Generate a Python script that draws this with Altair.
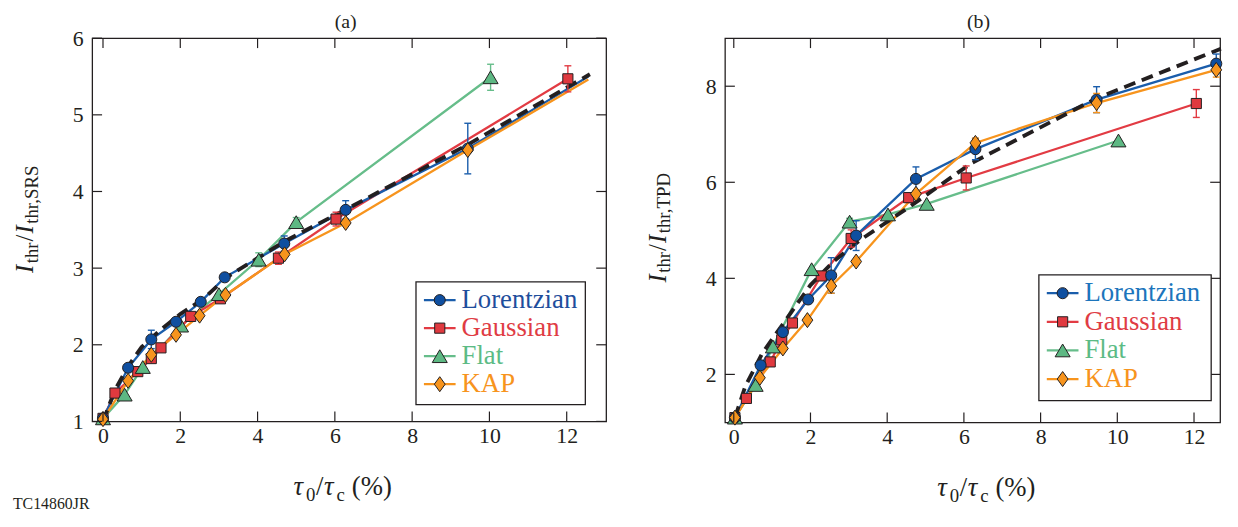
import altair as alt
import pandas as pd

FONT = "Liberation Serif, Times New Roman, Times, serif"
INK = "#231f20"

SERIES = ["Lorentzian", "Gaussian", "Flat", "KAP"]
LINE_COLORS = ["#1a5dab", "#e23b43", "#66bd8a", "#f7941d"]
FILL_COLORS = ["#0f4fa0", "#e0393f", "#5db883", "#f7941d"]
TEXT_COLORS_A = ["#1f4e9c", "#e03c44", "#5cbb85", "#f7941d"]
TEXT_COLORS_B = ["#1c75bc", "#e03c44", "#5cbb85", "#f7941d"]

# ---------------- panel (a) data ----------------
a_lor_x = [0, 0.65, 1.25, 1.89, 2.53, 3.15, 4.69, 6.28, 9.44, 12.56]
a_lor_y = [1.04, 1.70, 2.07, 2.30, 2.56, 2.88, 3.32, 3.76, 4.56, 5.50]
a_lor_e = [0, 0, 0.12, 0, 0, 0, 0.10, 0.12, 0.33, 0]
a_lor_m = [1, 1, 1, 1, 1, 1, 1, 1, 1, 0]

a_gau_x = [0, 0.31, 0.90, 1.25, 1.50, 2.27, 3.04, 4.54, 6.03, 12.03]
a_gau_y = [1.04, 1.37, 1.65, 1.82, 1.96, 2.37, 2.60, 3.13, 3.64, 5.47]
a_gau_e = [0, 0, 0, 0, 0, 0, 0, 0.08, 0.09, 0.17]
a_gau_m = [1, 1, 1, 1, 1, 1, 1, 1, 1, 1]

a_flat_x = [0, 0.56, 1.03, 2.02, 3.00, 4.03, 5.00, 10.03]
a_flat_y = [1.04, 1.35, 1.71, 2.25, 2.66, 3.11, 3.60, 5.49]
a_flat_e = [0, 0, 0, 0, 0, 0.09, 0.06, 0.17]
a_flat_m = [1, 1, 1, 1, 1, 1, 1, 1]

a_kap_x = [0, 0.65, 1.25, 1.89, 2.50, 3.17, 4.70, 6.28, 9.44, 12.56]
a_kap_y = [1.03, 1.53, 1.87, 2.13, 2.38, 2.65, 3.18, 3.59, 4.54, 5.46]
a_kap_e = [0, 0, 0, 0, 0, 0, 0, 0, 0, 0]
a_kap_m = [1, 1, 1, 1, 1, 1, 1, 1, 1, 0]

a_fit_x = [0, 0.30, 0.65, 1.00, 1.50, 2.00, 2.60, 3.20, 4.70, 6.30, 9.40, 12.60]
a_fit_y = [1.00, 1.40, 1.72, 1.97, 2.20, 2.40, 2.60, 2.88, 3.35, 3.77, 4.60, 5.53]

# ---------------- panel (b) data ----------------
b_lor_x = [0.03, 0.70, 1.28, 1.94, 2.54, 3.19, 4.75, 6.30, 9.46, 12.58]
b_lor_y = [1.10, 2.19, 2.88, 3.56, 4.06, 4.89, 6.07, 6.69, 7.72, 8.47]
b_lor_e = [0, 0.08, 0.10, 0, 0.37, 0.31, 0.25, 0.22, 0.27, 0.20]
b_lor_m = [1, 1, 1, 1, 1, 1, 1, 1, 1, 1]

b_gau_x = [0.03, 0.33, 0.95, 1.25, 1.53, 2.28, 3.06, 4.56, 6.06, 12.06]
b_gau_y = [1.10, 1.50, 2.26, 2.72, 3.07, 4.05, 4.83, 5.68, 6.09, 7.64]
b_gau_e = [0, 0, 0.08, 0.15, 0, 0, 0.18, 0.10, 0.25, 0.29]
b_gau_m = [1, 1, 1, 1, 1, 1, 1, 1, 1, 1]

b_flat_x = [0.03, 0.57, 1.02, 2.03, 3.02, 4.02, 5.03, 10.03]
b_flat_y = [1.10, 1.78, 2.58, 4.19, 5.18, 5.33, 5.55, 6.87]
b_flat_e = [0, 0, 0, 0, 0.07, 0, 0, 0]
b_flat_m = [1, 1, 1, 1, 1, 1, 1, 1]

b_kap_x = [0.03, 0.68, 1.28, 1.92, 2.54, 3.19, 4.75, 6.30, 9.46, 12.58]
b_kap_y = [1.10, 1.93, 2.54, 3.13, 3.84, 4.35, 5.76, 6.82, 7.65, 8.34]
b_kap_e = [0, 0, 0, 0, 0.15, 0, 0, 0.10, 0.20, 0.15]
b_kap_m = [1, 1, 1, 1, 1, 1, 1, 1, 1, 1]

b_fit_x = [0.03, 0.30, 0.75, 1.30, 2.00, 2.60, 3.30, 4.60, 6.20, 9.46, 12.70]
b_fit_y = [1.10, 1.75, 2.45, 3.07, 3.86, 4.35, 4.80, 5.50, 6.40, 7.75, 8.78]

x_ticks = [0, 2, 4, 6, 8, 10, 12]
a_y_ticks = [1, 2, 3, 4, 5, 6]
b_y_ticks = [2, 4, 6, 8]

# marker shapes (custom paths in [-1,1] box) and sizes
SHAPES = ["circle", "square", "M0,-0.85L1,0.85L-1,0.85Z", "M0,-1L0.72,0L0,1L-0.72,0Z"]
SIZES = [125, 105, 230, 230]
MARK_ORDER = [1, 2, 0, 3]  # draw Gaussian, Flat, Lorentzian, KAP
LINE_ORDER = [2, 1, 0, 3]

EM = {"t": 0.278, "h": 0.5, "r": 0.333, ",": 0.25, "S": 0.556, "R": 0.667,
      "T": 0.611, "P": 0.556, "D": 0.722, "/": 0.278, "(": 0.333, "%": 0.833,
      ")": 0.333, "0": 0.5, "c": 0.444, "I": 0.333, "τ": 0.45}


def tw(s, size):
    return sum(EM.get(ch, 0.5) for ch in s) * size


def txt(s, x, y, size, style="normal", color=INK, align="left",
        baseline="alphabetic", angle=0):
    kw = dict(align=align, baseline=baseline, font=FONT, fontSize=size,
              fontStyle=style, color=color)
    if angle:
        kw["angle"] = angle
    return alt.Chart(pd.DataFrame({"t": [s]})).mark_text(**kw).encode(
        text="t:N", x=alt.value(x), y=alt.value(y))


def build_panel(p):
    W, H = p["W"], p["H"]
    xs = alt.Scale(domain=p["xdom"], nice=False, zero=False)
    ys = alt.Scale(domain=p["ydom"], nice=False, zero=False)
    xax = alt.Axis(values=x_ticks, tickSize=0, domain=False, grid=False,
                   labelFont=FONT, labelFontSize=22, labelColor=INK,
                   labelPadding=4, title=None)
    yax = alt.Axis(values=p["yticks"], tickSize=0, domain=False, grid=False,
                   labelFont=FONT, labelFontSize=22, labelColor=INK,
                   labelPadding=9, title=None)

    def X(f):
        return alt.X(f, type="quantitative", scale=xs, axis=xax)

    def Y(f):
        return alt.Y(f, type="quantitative", scale=ys, axis=yax)

    layers = []
    frames = []
    for k, (sx, sy, se, sm) in enumerate(p["series"]):
        frames.append(pd.DataFrame({"x": sx, "y": sy, "e": se, "m": sm,
                                    "i": list(range(len(sx)))}))
    # connecting lines
    for k in LINE_ORDER:
        layers.append(alt.Chart(frames[k]).mark_line(
            color=LINE_COLORS[k], strokeWidth=2.3).encode(
            x=X("x"), y=Y("y"), order="i:Q"))
    # dashed fit
    fit = pd.DataFrame({"x": p["fit"][0], "y": p["fit"][1],
                        "i": list(range(len(p["fit"][0])))})
    layers.append(alt.Chart(fit).mark_line(
        color=INK, strokeWidth=3.9, strokeDash=[12, 7]).encode(
        x=X("x"), y=Y("y"), order="i:Q"))
    # error bars with caps
    for k in MARK_ORDER:
        df = frames[k]
        d = df[df["e"] > 0].copy()
        if len(d) == 0:
            continue
        d["lo"] = d["y"] - d["e"]
        d["hi"] = d["y"] + d["e"]
        layers.append(alt.Chart(d).mark_rule(
            color=LINE_COLORS[k], strokeWidth=1.4).encode(
            x=X("x"), y=Y("lo"), y2="hi:Q"))
        caps = pd.concat([pd.DataFrame({"x": d["x"], "v": d["lo"]}),
                          pd.DataFrame({"x": d["x"], "v": d["hi"]})])
        layers.append(alt.Chart(caps).mark_tick(
            color=LINE_COLORS[k], orient="horizontal", size=7,
            thickness=1.4, opacity=1).encode(x=X("x"), y=Y("v")))
    # markers
    for k in MARK_ORDER:
        df = frames[k]
        d = df[df["m"] > 0]
        layers.append(alt.Chart(d).mark_point(
            shape=SHAPES[k], filled=True, fill=FILL_COLORS[k], stroke=INK,
            strokeWidth=1, size=SIZES[k], opacity=1).encode(
            x=X("x"), y=Y("y")))
    # inward ticks on all four sides
    xt = pd.DataFrame({"v": x_ticks})
    yt = pd.DataFrame({"v": p["yticks"]})
    layers.append(alt.Chart(xt).mark_rule(color=INK, strokeWidth=1.2).encode(
        x=X("v"), y=alt.value(H), y2=alt.value(H - 10)))
    layers.append(alt.Chart(xt).mark_rule(color=INK, strokeWidth=1.2).encode(
        x=X("v"), y=alt.value(0), y2=alt.value(10)))
    layers.append(alt.Chart(yt).mark_rule(color=INK, strokeWidth=1.2).encode(
        y=Y("v"), x=alt.value(0), x2=alt.value(10)))
    layers.append(alt.Chart(yt).mark_rule(color=INK, strokeWidth=1.2).encode(
        y=Y("v"), x=alt.value(W), x2=alt.value(W - 10)))
    # legend
    L, T, R, B = p["legend"]
    layers.append(alt.Chart(pd.DataFrame({"a": [0]})).mark_rect(
        fill="white", stroke=INK, strokeWidth=1.3).encode(
        x=alt.value(L), x2=alt.value(R), y=alt.value(T), y2=alt.value(B)))
    for k, name in enumerate(SERIES):
        ly = T + 18.5 + k * p["lstep"]
        one = pd.DataFrame({"a": [0]})
        layers.append(alt.Chart(one).mark_rule(
            color=LINE_COLORS[k], strokeWidth=2.3).encode(
            x=alt.value(L + 8), x2=alt.value(L + 40), y=alt.value(ly)))
        layers.append(alt.Chart(one).mark_point(
            shape=SHAPES[k], filled=True, fill=FILL_COLORS[k], stroke=INK,
            strokeWidth=1, size=SIZES[k], opacity=1).encode(
            x=alt.value(L + 24), y=alt.value(ly)))
        layers.append(txt(name, L + 46, ly, 27, color=p["tcolors"][k],
                          baseline="middle"))
    # panel label
    layers.append(txt(p["label"], W / 2 + p["label_dx"], -16.5, 20,
                      align="center", baseline="middle"))
    # x title: tau_0 / tau_c (%)
    xpieces = [("τ", 27, "italic", 0, 0.5), ("0", 19, "normal", 6, 0.5),
               ("/", 27, "normal", 0, 0.5), ("τ", 27, "italic", 0, 0.5),
               ("c", 19, "normal", 6, 7), ("(%)", 27, "normal", 0, 0)]
    total = sum(tw(s, z) + g for s, z, _, _, g in xpieces)
    cx = p["xt_center"] - total / 2
    for s, z, st, dy, g in xpieces:
        layers.append(txt(s, cx, H + 74 + dy, z, style=st))
        cx += tw(s, z) + g
    # y title: I_thr / I_thr,XXX
    ypieces = [("I", 25, "italic", 0, 1.5), ("thr", 19, "normal", 5, 1),
               ("/", 25, "normal", 0, 1), ("I", 25, "italic", 0, 1.5),
               ("thr," + p["ysub"], 19, "normal", 5, 0)]
    total = sum(tw(s, z) + g for s, z, _, _, g in ypieces)
    cy = p["yt_center"] + total / 2
    for s, z, st, dx, g in ypieces:
        layers.append(txt(s, -60 + dx, cy, z, style=st, angle=270))
        cy -= tw(s, z) + g
    if p.get("code"):
        layers.append(txt(p["code"], -80, H + 88, 16))
    return alt.layer(*layers).properties(width=W, height=H)


panel_a = build_panel(dict(
    W=519, H=387, xdom=[-0.28, 13.02], ydom=[1, 6], yticks=a_y_ticks,
    series=[(a_lor_x, a_lor_y, a_lor_e, a_lor_m),
            (a_gau_x, a_gau_y, a_gau_e, a_gau_m),
            (a_flat_x, a_flat_y, a_flat_e, a_flat_m),
            (a_kap_x, a_kap_y, a_kap_e, a_kap_m)],
    fit=(a_fit_x, a_fit_y), legend=(327, 246, 498, 370), lstep=28.3,
    tcolors=TEXT_COLORS_A, label="(a)", label_dx=-3.5, xt_center=253,
    yt_center=182.5, ysub="SRS", code="TC14860JR"))

panel_b = build_panel(dict(
    W=500, H=388, xdom=[-0.23, 12.68], ydom=[1, 9], yticks=b_y_ticks,
    series=[(b_lor_x, b_lor_y, b_lor_e, b_lor_m),
            (b_gau_x, b_gau_y, b_gau_e, b_gau_m),
            (b_flat_x, b_flat_y, b_flat_e, b_flat_m),
            (b_kap_x, b_kap_y, b_kap_e, b_kap_m)],
    fit=(b_fit_x, b_fit_y), legend=(317, 239, 491, 366), lstep=28.9,
    tcolors=TEXT_COLORS_B, label="(b)", label_dx=6, xt_center=264,
    yt_center=191, ysub="TPD"))

chart = alt.hconcat(panel_a, panel_b, spacing=37).resolve_scale(
    x="independent", y="independent").properties(
    padding={"left": 4, "top": 0, "right": 0, "bottom": 0}
).configure_view(stroke=INK, strokeWidth=1.3)

chart.save("out.html", embed_options={"renderer": "svg", "actions": False})
